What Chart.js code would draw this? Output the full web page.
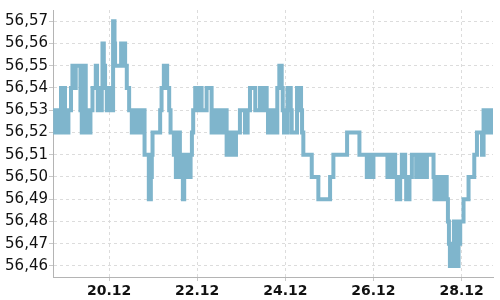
<!DOCTYPE html>
<html>
<head>
<meta charset="utf-8">
<script src="https://cdn.jsdelivr.net/npm/chart.js@4/dist/chart.umd.min.js"></script>
<style>
  html, body { margin: 0; padding: 0; background: #ffffff; }
  #wrap { width: 500px; height: 300px; }
</style>
</head>
<body>
<div id="wrap"><canvas id="c" width="500" height="300"></canvas></div>
<script>
// Time in days of December (fractional), value in price units
const times = [
  18.727,18.777,18.823,18.868,18.909,19.000,19.032,19.061,19.077,19.136,
  19.168,19.214,19.243,19.350,19.364,19.380,19.402,19.425,19.470,19.486,
  19.516,19.545,19.577,19.623,19.698,19.727,19.743,19.773,19.805,19.834,
  19.850,19.880,19.909,19.948,19.977,20.009,20.039,20.068,20.091,20.123,
  20.136,20.273,20.364,20.402,20.455,20.516,20.545,20.577,20.607,20.636,
  20.668,20.698,20.727,20.759,20.789,20.805,20.902,20.948,20.970,20.986,
  21.159,21.191,21.243,21.318,21.364,21.395,21.470,21.500,21.516,21.545,
  21.577,21.607,21.630,21.659,21.675,21.705,21.736,21.766,21.795,21.850,
  21.880,21.909,21.955,21.986,22.016,22.045,22.077,22.100,22.214,22.327,
  22.357,22.386,22.418,22.448,22.477,22.509,22.539,22.568,22.591,22.668,
  22.698,22.727,22.759,22.789,22.818,22.850,22.880,22.970,23.084,23.145,
  23.198,23.318,23.425,23.455,23.486,23.516,23.545,23.577,23.607,23.636,
  23.668,23.698,23.727,23.759,23.789,23.818,23.864,23.918,23.941,23.970,
  24.000,24.032,24.050,24.123,24.145,24.266,24.295,24.327,24.357,24.380,
  24.409,24.600,24.750,25.016,25.091,25.402,25.682,25.850,25.880,25.909,
  25.941,25.970,26.000,26.318,26.350,26.380,26.409,26.441,26.470,26.493,
  26.532,26.607,26.645,26.720,26.743,26.818,26.873,26.970,27.045,27.136,
  27.214,27.364,27.386,27.455,27.486,27.516,27.545,27.577,27.607,27.636,
  27.663,27.691,27.714,27.736,27.766,27.795,27.827,27.850,27.880,27.909,
  27.932,27.955,27.970,28.045,28.159,28.289,28.350,28.464,28.500,28.532,
  28.561,28.591,28.623,28.652,28.682,28.714
];
const prices = [
  56.53,56.52,56.53,56.52,56.54,56.52,56.53,56.52,56.53,56.54,
  56.55,56.54,56.55,56.53,56.55,56.52,56.53,56.55,56.53,56.52,
  56.53,56.52,56.53,56.54,56.55,56.54,56.53,56.54,56.53,56.54,
  56.56,56.55,56.54,56.53,56.54,56.53,56.54,56.53,56.57,56.56,
  56.55,56.56,56.55,56.54,56.53,56.52,56.53,56.52,56.53,56.52,
  56.53,56.52,56.53,56.52,56.53,56.51,56.49,56.50,56.51,56.52,
  56.53,56.54,56.55,56.54,56.53,56.52,56.51,56.52,56.50,56.51,
  56.52,56.51,56.50,56.51,56.49,56.51,56.50,56.51,56.50,56.51,
  56.52,56.53,56.54,56.53,56.54,56.53,56.54,56.53,56.54,56.52,
  56.53,56.52,56.53,56.52,56.53,56.52,56.53,56.52,56.53,56.51,
  56.52,56.51,56.52,56.51,56.52,56.51,56.52,56.53,56.52,56.53,
  56.54,56.53,56.54,56.53,56.54,56.53,56.54,56.53,56.52,56.53,
  56.52,56.53,56.52,56.53,56.52,56.54,56.55,56.54,56.53,56.52,
  56.53,56.52,56.54,56.53,56.52,56.54,56.53,56.54,56.53,56.52,
  56.51,56.50,56.49,56.50,56.51,56.52,56.51,56.50,56.51,56.50,
  56.51,56.50,56.51,56.50,56.51,56.50,56.51,56.50,56.51,56.50,
  56.49,56.50,56.51,56.50,56.49,56.50,56.51,56.50,56.51,56.50,
  56.51,56.50,56.49,56.50,56.49,56.50,56.49,56.50,56.49,56.50,
  56.49,56.48,56.47,56.46,56.47,56.46,56.48,56.46,56.47,56.46,
  56.48,56.47,56.48,56.49,56.50,56.51,56.52,56.51,56.53,56.52,
  56.53,56.52,56.53,56.52,56.53,56.53
];
const xTickValues = [20, 22, 24, 26, 28];
const xTickLabels = ['20.12', '22.12', '24.12', '26.12', '28.12'];
const yTickValues = [56.46,56.47,56.48,56.49,56.50,56.51,56.52,56.53,56.54,56.55,56.56,56.57];
const yTickLabels = ['56,46','56,47','56,48','56,49','56,50','56,51','56,52','56,53','56,54','56,55','56,56','56,57'];
const xMin = 18.727, xMax = 28.714;
const yMin = 56.455, yMax = 56.575;

const points = times.map((t, i) => ({ x: t, y: prices[i] }));

new Chart(document.getElementById('c'), {
  type: 'line',
  data: {
    datasets: [{
      data: points,
      borderColor: '#7fb5cc',
      borderWidth: 4,
      pointRadius: 0,
      stepped: true,
      fill: false,
      tension: 0
    }]
  },
  options: {
    responsive: false,
    animation: false,
    devicePixelRatio: 1,
    layout: { padding: { left: 0, right: 7, top: 5, bottom: 0 } },
    plugins: { legend: { display: false }, tooltip: { enabled: false } },
    scales: {
      x: {
        type: 'linear',
        min: xMin,
        max: xMax,
        afterBuildTicks: (s) => { s.ticks = xTickValues.map(v => ({ value: v })); },
        afterFit: (s) => { s.height = 23; },
        ticks: {
          callback: (v, i) => xTickLabels[i],
          font: { family: 'DejaVu Sans', size: 14, weight: 'bold' },
          color: '#111',
          padding: 2,
          maxRotation: 0,
          autoSkip: false
        },
        grid: { color: '#dcdcdc', tickLength: 4, tickColor: '#c8c8c8', tickBorderDash: [] },
        border: { color: '#b4b4b4', width: 1, dash: [3, 3] }
      },
      y: {
        type: 'linear',
        min: yMin,
        max: yMax,
        afterBuildTicks: (s) => { s.ticks = yTickValues.map(v => ({ value: v })); },
        afterFit: (s) => { s.width = 53; },
        ticks: {
          callback: (v, i) => yTickLabels[i],
          font: { family: 'DejaVu Sans', size: 15 },
          color: '#111',
          padding: 1,
          autoSkip: false
        },
        grid: { color: '#dcdcdc', tickLength: 4, tickColor: '#c8c8c8', tickBorderDash: [] },
        border: { color: '#b4b4b4', width: 1, dash: [3, 3] }
      }
    }
  }
});
</script>
</body>
</html>
